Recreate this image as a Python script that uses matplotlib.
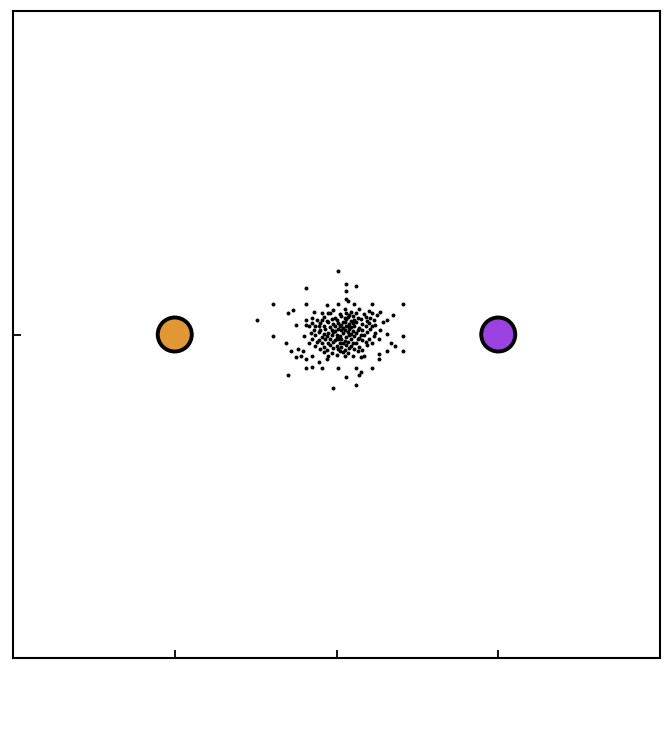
import matplotlib
matplotlib.use("Agg")
import matplotlib.pyplot as plt

# two anchor points
anchor_x = [-1.0, 1.0]
anchor_y = [0.0, 0.0]
anchor_colors = ["#E19834", "#9D42E2"]

# sample cloud
cloud_x = [
    0.01, 0.06, 0.12, -0.19, 0.06, 0.06, 0.07, -0.39, -0.19, 0.11, 0.01, 0.22, 0.41,
    -0.49, -0.30, -0.27, -0.06, -0.14, -0.09, -0.05, -0.19, -0.15, -0.09, -0.25, -0.19,
    -0.15, -0.11, -0.17, 0.35, 0.31, 0.27, 0.25, -0.39, -0.31, -0.28, -0.25, -0.22,
    -0.19, -0.19, -0.15, -0.09, -0.11, -0.30, -0.24, -0.21, -0.15, -0.06, 0.41, 0.34,
    0.36, 0.31, 0.41, 0.26, 0.22, 0.12, 0.01, 0.15, 0.14, 0.06, 0.12, -0.02, 0.26,
    0.17, 0.15,
    -0.02, 0.05, 0.09, 0.14, 0.20,
    -0.04, 0.02, 0.06, 0.08, 0.12, 0.17, 0.22,
    -0.08, -0.01, 0.03, 0.05, 0.07, 0.10, 0.13, 0.18, 0.21,
    -0.12, -0.06, -0.03, 0.00, 0.04, 0.06, 0.09, 0.11, 0.15, 0.19, 0.23,
    -0.10, -0.05, -0.02, 0.01, 0.03, 0.05, 0.08, 0.10, 0.12, 0.16, 0.20, 0.24, 0.29,
    -0.13, -0.08, -0.04, -0.01, 0.02, 0.04, 0.06, 0.07, 0.09, 0.11, 0.14, 0.18, 0.22,
    -0.14, -0.10, -0.07, -0.03, -0.01, 0.01, 0.03, 0.05, 0.08, 0.10, 0.13, 0.16, 0.21, 0.27,
    -0.16, -0.11, -0.08, -0.05, -0.02, 0.00, 0.04, 0.07, 0.09, 0.12, 0.15, 0.19, 0.24, 0.31,
    -0.20, -0.13, -0.09, -0.06, -0.03, 0.00, 0.02, 0.06, 0.08, 0.11, 0.14, 0.17, 0.23,
    -0.15, -0.11, -0.07, -0.04, -0.01, 0.01, 0.03, 0.05, 0.09, 0.13, 0.16, 0.20, 0.26,
    -0.17, -0.12, -0.09, -0.05, -0.02, 0.02, 0.04, 0.07, 0.10, 0.12, 0.18, 0.22,
    -0.13, -0.08, -0.04, 0.00, 0.03, 0.06, 0.09, 0.14, 0.19,
    -0.10, -0.06, -0.02, 0.01, 0.05, 0.08, 0.11, 0.16,
    -0.08, -0.03, 0.02, 0.04, 0.07, 0.13,
    -0.05, 0.00, 0.05, 0.10,
]
cloud_y = [
    0.39, 0.31, 0.30, 0.29, 0.27, 0.22, 0.21, 0.19, 0.19, 0.19, 0.19, 0.19, 0.19,
    0.09, 0.13, 0.15, 0.18, 0.14, 0.13, 0.13, 0.09, 0.10, 0.09, 0.06, 0.06,
    0.07, 0.05, 0.05, 0.12, 0.09, 0.14, 0.12, -0.01, -0.05, -0.10, -0.14, -0.13,
    -0.15, -0.21, -0.20, -0.21, -0.17, -0.25, -0.09, -0.10, -0.13, -0.15, -0.01, -0.05,
    -0.07, -0.10, -0.10, -0.15, -0.21, -0.21, -0.21, -0.23, -0.25, -0.26, -0.31, -0.33, -0.12,
    -0.13, -0.14,
    0.15, 0.16, 0.14, 0.155, 0.145,
    0.13, 0.125, 0.135, 0.12, 0.13, 0.125, 0.135,
    0.11, 0.105, 0.115, 0.10, 0.11, 0.115, 0.105, 0.11, 0.10,
    0.09, 0.085, 0.095, 0.09, 0.08, 0.095, 0.085, 0.09, 0.095, 0.085, 0.09,
    0.07, 0.075, 0.065, 0.07, 0.06, 0.075, 0.065, 0.07, 0.075, 0.065, 0.07, 0.06, 0.075,
    0.05, 0.055, 0.045, 0.05, 0.055, 0.04, 0.05, 0.055, 0.045, 0.05, 0.04, 0.055, 0.05,
    0.03, 0.025, 0.035, 0.03, 0.02, 0.035, 0.025, 0.03, 0.035, 0.02, 0.03, 0.025, 0.035, 0.03,
    0.01, 0.015, 0.005, 0.01, 0.015, 0.00, 0.01, 0.015, 0.005, 0.01, 0.00, 0.015, 0.01, 0.005,
    -0.01, -0.005, -0.015, -0.01, -0.005, -0.02, -0.01, -0.015, -0.005, -0.01, -0.02, -0.005, -0.01,
    -0.03, -0.035, -0.025, -0.03, -0.035, -0.025, -0.03, -0.04, -0.03, -0.025, -0.035, -0.03, -0.025,
    -0.05, -0.045, -0.055, -0.05, -0.045, -0.055, -0.05, -0.045, -0.055, -0.05, -0.045, -0.055,
    -0.07, -0.075, -0.065, -0.07, -0.075, -0.065, -0.07, -0.075, -0.065,
    -0.09, -0.095, -0.085, -0.09, -0.095, -0.085, -0.09, -0.095,
    -0.11, -0.115, -0.105, -0.11, -0.115, -0.105,
    -0.13, -0.125, -0.135, -0.13,
]

xticks = [-2, -1, 0, 1, 2]
yticks = [0]

fig = plt.figure(figsize=(6.71, 7.53), dpi=100)
ax = fig.add_axes([13 / 671, 95 / 753, 647 / 671, 647 / 753])

ax.scatter(cloud_x, cloud_y, s=8, color="black", linewidths=0, zorder=2)
ax.scatter(anchor_x, anchor_y, s=600, c=anchor_colors, edgecolors="black",
           linewidths=2.8, zorder=3)

ax.set_xlim(-2, 2)
ax.set_ylim(-2, 2)
ax.set_xticks(xticks)
ax.set_yticks(yticks)
ax.set_xticklabels([])
ax.set_yticklabels([])
ax.tick_params(direction="in", length=5.5, width=1.3)
for sp in ax.spines.values():
    sp.set_linewidth(1.5)

fig.savefig("out.png", dpi=100)
